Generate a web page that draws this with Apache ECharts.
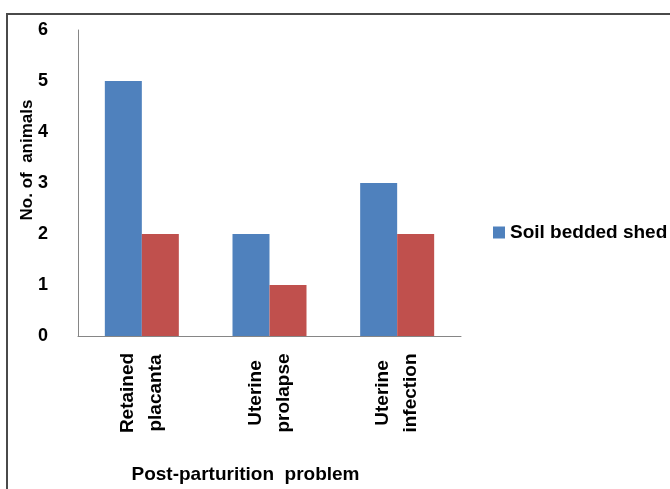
<!DOCTYPE html>
<html>
<head>
<meta charset="utf-8">
<script src="https://cdn.jsdelivr.net/npm/echarts@6/dist/echarts.min.js"></script>
<style>
  html, body { margin: 0; padding: 0; background: #fff; }
  #chart { width: 670px; height: 489px; }
</style>
</head>
<body>
<div id="chart"></div>
<script>
// data
const categories = ['Retained\nplacanta', 'Uterine\nprolapse', 'Uterine\ninfection']
const soilBedded = [5, 2, 3]
const otherShed = [2, 1, 2]
const yTicks = { min: 0, max: 6, interval: 1 }

const font = "'Liberation Sans', Arial, sans-serif"
const chart = echarts.init(document.getElementById('chart'))

const option = {
  animation: false,
  backgroundColor: '#fff',
  textStyle: { fontFamily: font },
  graphic: [{
    type: 'rect',
    shape: { x: 7, y: 14, width: 700, height: 520 },
    style: { fill: 'none', stroke: '#4a4a4a', lineWidth: 2 }
  }],
  legend: {
    data: ['Soil bedded shed'],
    left: 488, top: 218,
    orient: 'vertical',
    icon: 'rect',
    itemWidth: 12, itemHeight: 12, itemGap: 8,
    textStyle: { fontSize: 19, fontWeight: 'bold', color: '#000', fontFamily: font }
  },
  grid: { left: 78, right: 209, top: 30, bottom: 151 },
  xAxis: {
    type: 'category',
    data: categories,
    name: 'Post-parturition  problem',
    nameLocation: 'middle',
    nameGap: 129,
    nameTextStyle: { fontSize: 19, fontWeight: 'bold', color: '#000', padding: [0, 48, 0, 0] },
    axisLine: { lineStyle: { color: '#868686', width: 1 } },
    axisTick: { show: false },
    axisLabel: {
      rotate: 90,
      align: 'center',
      verticalAlign: 'middle',
      margin: 57,
      fontSize: 19,
      lineHeight: 28,
      fontWeight: 'bold',
      color: '#000'
    }
  },
  yAxis: {
    type: 'value',
    min: yTicks.min, max: yTicks.max, interval: yTicks.interval,
    name: 'No. of  animals',
    nameLocation: 'middle',
    nameGap: 42,
    nameMoveOverlap: false,
    nameRotate: 90,
    nameTextStyle: { fontSize: 17, fontWeight: 'bold', color: '#000', padding: [0, 0, 0, 46] },
    axisLine: { show: true, lineStyle: { color: '#868686', width: 1 } },
    axisTick: { show: false },
    splitLine: { show: false },
    axisLabel: { margin: 30, fontSize: 18, fontWeight: 'bold', color: '#000' }
  },
  series: [
    {
      name: 'Soil bedded shed',
      type: 'bar',
      data: soilBedded,
      barWidth: 37,
      barGap: '0%',
      itemStyle: { color: '#4F81BD' }
    },
    {
      name: 'Concrete floored shed',
      type: 'bar',
      data: otherShed,
      barWidth: 37,
      itemStyle: { color: '#C0504D' }
    }
  ]
}

chart.setOption(option)
</script>
</body>
</html>
